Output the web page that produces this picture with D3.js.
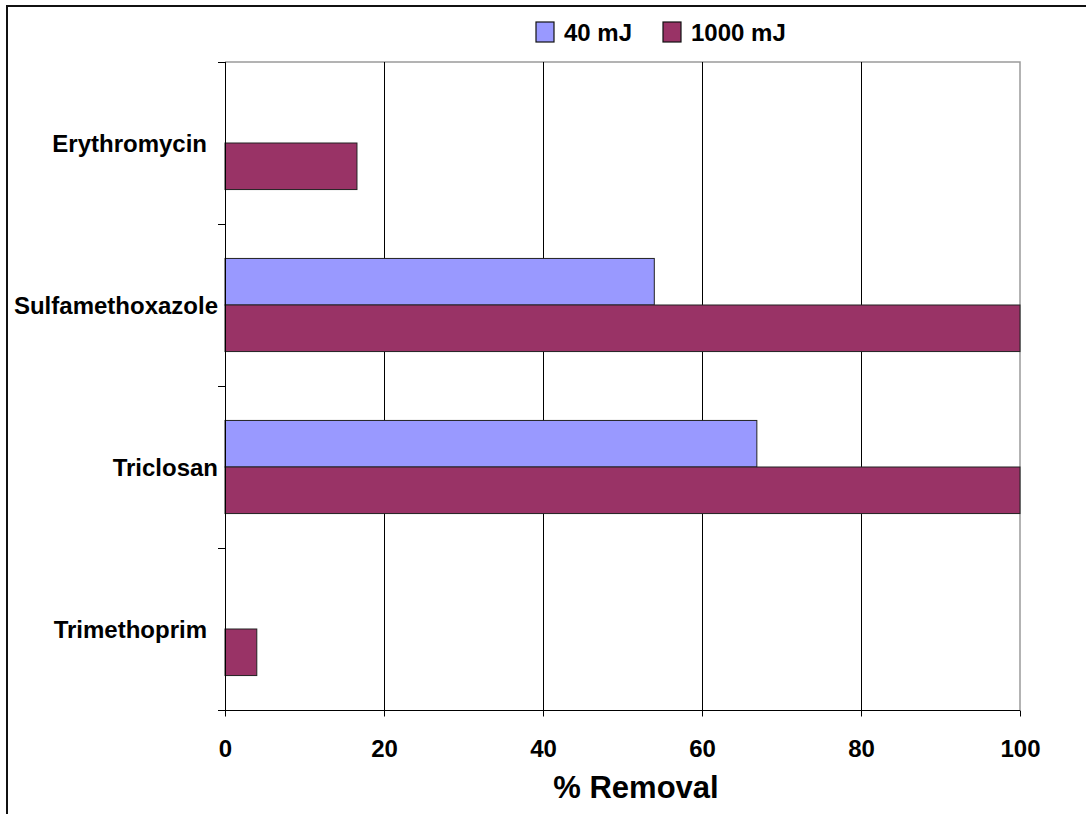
<!DOCTYPE html>
<html>
<head>
<meta charset="utf-8">
<script src="https://cdn.jsdelivr.net/npm/d3@7"></script>
<style>
  body { margin: 0; background: #fff; }
  svg { display: block; font-family: "Liberation Sans", Arial, sans-serif; font-weight: bold; }
</style>
</head>
<body>
<div id="chart"></div>
<script>
// data
var compounds = ["Erythromycin", "Sulfamethoxazole", "Triclosan", "Trimethoprim"];
var doses = ["40 mJ", "1000 mJ"];
var removal40 = [0, 54, 66.9, 0];
var removal1000 = [16.6, 100, 100, 4];
var xTicks = [0, 20, 40, 60, 80, 100];

var colors = { "40 mJ": "#9999ff", "1000 mJ": "#993366" };

var width = 1086,
    height = 814,
    plotLeft = 225, plotRight = 1020,
    plotTop = 62, plotBottom = 710;

var svg = d3.select("#chart").append("svg")
    .attr("width", width)
    .attr("height", height);

// outer frame (runs off the right and bottom of the picture)
svg.append("rect")
    .attr("x", 7).attr("y", 6)
    .attr("width", 1100).attr("height", 900)
    .style("fill", "none")
    .style("stroke", "#111")
    .style("stroke-width", 2);

var x = d3.scaleLinear().domain([0, 100]).range([plotLeft, plotRight]);
var y = d3.scaleBand().domain(compounds).range([plotTop, plotBottom]).padding(0);
var y1 = d3.scaleBand().domain(doses).range([0, y.bandwidth()])
    .paddingInner(0).paddingOuter(0.74);

var rows = compounds.map(function(c, i) {
  return { name: c, values: [
    { dose: doses[0], v: removal40[i] },
    { dose: doses[1], v: removal1000[i] }
  ]};
});

// plot area border (top + right, gray)
svg.append("path")
    .attr("d", "M" + plotLeft + "," + plotTop + "H" + plotRight + "V" + plotBottom)
    .style("fill", "none")
    .style("stroke", "#9a9a9a")
    .style("stroke-width", 1.5);

// vertical gridlines
svg.append("g").selectAll("line")
    .data(xTicks.filter(function(d) { return d > 0 && d < 100; }))
  .enter().append("line")
    .attr("x1", function(d) { return Math.round(x(d)) + 0.5; })
    .attr("x2", function(d) { return Math.round(x(d)) + 0.5; })
    .attr("y1", plotTop).attr("y2", plotBottom)
    .style("stroke", "#000")
    .style("stroke-width", 1);

// bars
var groups = svg.append("g").selectAll("g")
    .data(rows)
  .enter().append("g")
    .attr("transform", function(d) { return "translate(0," + y(d.name) + ")"; });

groups.selectAll("rect")
    .data(function(d) { return d.values.filter(function(e) { return e.v > 0; }); })
  .enter().append("rect")
    .attr("x", x(0))
    .attr("y", function(d) { return y1(d.dose); })
    .attr("width", function(d) { return x(d.v) - x(0); })
    .attr("height", y1.bandwidth())
    .style("fill", function(d) { return colors[d.dose]; })
    .style("stroke", "#222")
    .style("stroke-width", 1);

// x axis
var xAxis = d3.axisBottom(x).tickValues(xTicks).tickSize(6).tickSizeOuter(0).tickFormat(d3.format("d"));
var gx = svg.append("g")
    .attr("transform", "translate(0," + (plotBottom + 0.5) + ")")
    .call(xAxis);
gx.select(".domain").attr("d", "M" + (plotLeft - 7) + ",0H" + plotRight).style("stroke", "#000");
gx.selectAll(".tick line").style("stroke", "#000");
gx.selectAll(".tick text")
    .attr("y", 46).attr("dy", 0)
    .style("font-size", "24px")
    .style("font-family", "'Liberation Sans', Arial, sans-serif")
    .style("font-weight", "bold")
    .style("fill", "#000");

// y axis: ticks at category boundaries
var bounds = compounds.map(function(c) { return y(c); }).concat([plotBottom]);
var gy = svg.append("g");
gy.append("line")
    .attr("x1", plotLeft + 0.5).attr("x2", plotLeft + 0.5)
    .attr("y1", plotTop).attr("y2", plotBottom + 6)
    .style("stroke", "#000");
gy.selectAll("line.tk")
    .data(bounds)
  .enter().append("line")
    .attr("class", "tk")
    .attr("x1", plotLeft - 7).attr("x2", plotLeft)
    .attr("y1", function(d) { return d + 0.5; })
    .attr("y2", function(d) { return d + 0.5; })
    .style("stroke", "#000");

// category labels
var labelEnd = { "Erythromycin": 207, "Sulfamethoxazole": 218, "Triclosan": 218, "Trimethoprim": 207 };
svg.append("g").selectAll("text")
    .data(compounds)
  .enter().append("text")
    .attr("x", function(d) { return labelEnd[d]; })
    .attr("y", function(d) { return y(d) + y.bandwidth() / 2; })
    .attr("dy", "0.36em")
    .style("text-anchor", "end")
    .style("font-size", "24px")
    .text(function(d) { return d; });

// axis title
svg.append("text")
    .attr("x", 636)
    .attr("y", 798)
    .style("text-anchor", "middle")
    .style("font-size", "31px")
    .text("% Removal");

// legend
var legend = svg.append("g").attr("transform", "translate(536,22)");
var lx = [0, 127];
var item = legend.selectAll("g")
    .data(doses)
  .enter().append("g")
    .attr("transform", function(d, i) { return "translate(" + lx[i] + ",0)"; });
item.append("rect")
    .attr("width", 18).attr("height", 20)
    .style("fill", function(d) { return colors[d]; })
    .style("stroke", "#111")
    .style("stroke-width", 1.2);
item.append("text")
    .attr("x", 28)
    .attr("y", 18.5)
    .style("font-size", "24px")
    .text(function(d) { return d; });
</script>
</body>
</html>
